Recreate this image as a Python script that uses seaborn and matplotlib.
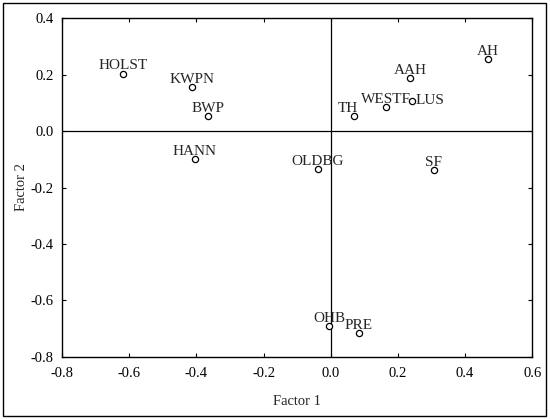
import matplotlib
matplotlib.use("Agg")
import matplotlib.pyplot as plt
import seaborn as sns
import pandas as pd
from matplotlib.patches import Rectangle

# breed loadings on the two factors
breeds = ['HOLST', 'KWPN', 'BWP', 'HANN', 'AH', 'AAH', 'WESTF', 'LUS',
          'TH', 'OLDBG', 'SF', 'OHB', 'PRE']
factor1 = [-0.617, -0.413, -0.365, -0.405, 0.468, 0.237, 0.166, 0.243,
           0.068, -0.038, 0.307, -0.004, 0.084]
factor2 = [0.203, 0.156, 0.052, -0.099, 0.254, 0.188, 0.086, 0.107,
           0.054, -0.135, -0.137, -0.691, -0.714]
x_ticks = [-0.8, -0.6, -0.4, -0.2, 0.0, 0.2, 0.4, 0.6]
y_ticks = [-0.8, -0.6, -0.4, -0.2, 0.0, 0.2, 0.4]

df = pd.DataFrame({'breed': breeds, 'Factor 1': factor1, 'Factor 2': factor2})

sns.set_style('ticks')
plt.rcParams['font.family'] = ['Liberation Serif', 'DejaVu Serif']

fig = plt.figure(figsize=(5.5, 4.19), dpi=100)
ax = fig.add_axes([0.1127, 0.148, 0.855, 0.809])

ax.axhline(0, color='black', lw=0.9, zorder=1)
ax.axvline(0, color='black', lw=0.9, zorder=1)

sns.scatterplot(data=df, x='Factor 1', y='Factor 2', ax=ax, s=20,
                facecolor='white', edgecolor='black', linewidth=0.9, zorder=3)

for name, xv, yv in zip(breeds, factor1, factor2):
    if name == 'LUS':
        ax.annotate(name, (xv, yv), xytext=(2.5, -2), textcoords='offset points',
                    ha='left', va='baseline', fontsize=11)
    elif name == 'TH':
        ax.annotate(name, (xv, yv), xytext=(-4, 2.5), textcoords='offset points',
                    ha='center', va='baseline', fontsize=11)
    else:
        ax.annotate(name, (xv, yv), xytext=(0, 3), textcoords='offset points',
                    ha='center', va='baseline', fontsize=11)

ax.set_xlim(-0.8, 0.6)
ax.set_ylim(-0.8, 0.4)
ax.set_xticks(x_ticks)
ax.set_yticks(y_ticks)
ax.set_xticklabels([f'{t:.1f}' for t in x_ticks])
ax.set_yticklabels([f'{t:.1f}' for t in y_ticks])
ax.tick_params(direction='in', length=3, width=0.8, top=True, right=True,
               labelsize=10.5, colors='black')
ax.tick_params(axis='x', pad=7)
ax.tick_params(axis='y', pad=6)
ax.set_xlabel('Factor 1', fontsize=10.5, labelpad=11)
ax.set_ylabel('Factor 2', fontsize=10.5, labelpad=2)
for sp in ax.spines.values():
    sp.set_linewidth(1.0)
    sp.set_color('black')

# outer frame around the figure
fig.patches.append(Rectangle((3 / 550, 3 / 419), 543 / 550, 413 / 419,
                             transform=fig.transFigure, fill=False,
                             edgecolor='black', lw=1.0))

fig.savefig('out.png', dpi=100)
